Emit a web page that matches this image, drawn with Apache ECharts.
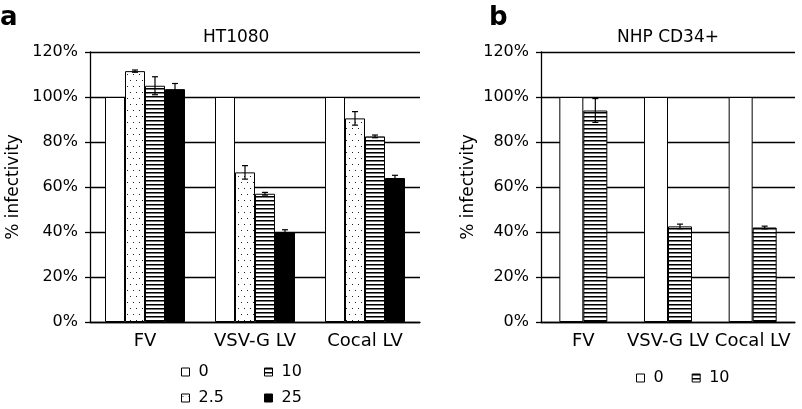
<!DOCTYPE html>
<html>
<head>
<meta charset="utf-8">
<script src="https://cdn.jsdelivr.net/npm/echarts@6/dist/echarts.min.js"></script>
<style>
html,body{margin:0;padding:0;background:#fff;}
#main{width:802px;height:409px;}
</style>
</head>
<body>
<div id="main"></div>
<script>
// ---- data ----
const categories = ['FV', 'VSV-G LV', 'Cocal LV'];
const dosesA = ['0', '2.5', '10', '25'];
const dosesB = ['0', '10'];
const yTickMin = 0, yTickMax = 120, yTickStep = 20; // tick labels 0%..120%

// Panel a: HT1080
const ht0 = [100, 100, 100];
const ht2_5 = [111.5, 66.5, 90.5];
const ht10 = [105, 57, 82.5];
const ht25 = [103.5, 40, 64];
const htErr2_5 = [0.5, 3, 3];
const htErr10 = [4, 0.6, 0.6];
const htErr25 = [2.5, 1, 1.2];

// Panel b: NHP CD34+
const nhp0 = [100, 100, 100];
const nhp10 = [94, 42.5, 42];
const nhpErr10 = [5.3, 1, 0.6];

const titleA = 'HT1080';
const titleB = 'NHP CD34+';
const yName = '% infectivity';

// ---- patterns ----
function dotPattern() {
  const c = document.createElement('canvas');
  c.width = 6; c.height = 12;
  const g = c.getContext('2d');
  g.fillStyle = '#fff'; g.fillRect(0, 0, 6, 12);
  g.fillStyle = '#222';
  g.fillRect(1, 2, 1, 1);
  g.fillRect(4, 8, 1, 1);
  return c;
}
function stripePattern() {
  const c = document.createElement('canvas');
  c.width = 4; c.height = 4;
  const g = c.getContext('2d');
  g.fillStyle = '#fff'; g.fillRect(0, 0, 4, 4);
  g.fillStyle = '#000'; g.fillRect(0, 0, 4, 1);
  g.fillStyle = '#777'; g.fillRect(0, 1, 4, 1);
  return c;
}
const fills = {
  '0': '#ffffff',
  '2.5': { image: dotPattern(), repeat: 'repeat' },
  '10': { image: stripePattern(), repeat: 'repeat' },
  '25': '#000000'
};

const FONT = 'DejaVu Sans';
const chart = echarts.init(document.getElementById('main'), null, { renderer: 'canvas' });

function errRender(offset) {
  return function (params, api) {
    const x = api.value(0), v = api.value(1), e = api.value(2);
    const t = api.coord([x, v + e]);
    const b = api.coord([x, v - e]);
    const cx = t[0] + offset;
    const cap = 3;
    const st = { stroke: '#000', lineWidth: 1.2 };
    return {
      type: 'group',
      children: [
        { type: 'line', shape: { x1: cx, y1: t[1], x2: cx, y2: b[1] }, style: st },
        { type: 'line', shape: { x1: cx - cap, y1: t[1], x2: cx + cap, y2: t[1] }, style: st },
        { type: 'line', shape: { x1: cx - cap, y1: b[1], x2: cx + cap, y2: b[1] }, style: st }
      ]
    };
  };
}
function errData(vals, errs) {
  return vals.map((v, i) => [i, v, errs[i]]);
}

function xAx(gi) {
  return {
    type: 'category', gridIndex: gi, data: categories,
    axisLine: { lineStyle: { color: '#000', width: 1.3 } },
    axisTick: { length: 5, lineStyle: { color: '#000', width: 1.3 } },
    axisLabel: { color: '#000', fontSize: 18, fontFamily: FONT, margin: 10, interval: 0, hideOverlap: false }
  };
}
function yAx(gi, gap) {
  return {
    type: 'value', gridIndex: gi, min: yTickMin, max: yTickMax, interval: yTickStep,
    name: yName, nameLocation: 'middle', nameGap: gap, nameRotate: 90,
    nameTextStyle: { color: '#000', fontSize: 17, fontFamily: FONT },
    axisLine: { show: true, lineStyle: { color: '#000', width: 1.3 } },
    axisTick: { show: true, length: 5, lineStyle: { color: '#000', width: 1.3 } },
    axisLabel: { color: '#000', fontSize: 16, fontFamily: FONT, margin: 12, formatter: '{value}%' },
    splitLine: { show: true, lineStyle: { color: '#000', width: 1.3 } }
  };
}
function barS(name, data, gi, bw) {
  return {
    type: 'bar', name: name, data: data, xAxisIndex: gi, yAxisIndex: gi,
    barWidth: bw, barGap: '0%',
    itemStyle: { color: fills[name], borderColor: '#000', borderWidth: 1 },
    emphasis: { disabled: true }
  };
}
function errS(vals, errs, gi, offset) {
  return {
    type: 'custom', xAxisIndex: gi, yAxisIndex: gi, z: 5,
    data: errData(vals, errs), encode: { x: 0, y: 1 },
    renderItem: errRender(offset), silent: true
  };
}

const legendText = { color: '#000', fontSize: 16, fontFamily: FONT, padding: [0, 0, 0, 4] };
const legendItem = { borderColor: '#000', borderWidth: 1 };
const tStyle = { fontSize: 17, fontWeight: 'normal', color: '#000', fontFamily: FONT };
const lStyle = { fontSize: 26, fontWeight: 'bold', color: '#000', fontFamily: FONT };

const option = {
  animation: false,
  backgroundColor: '#fff',
  textStyle: { fontFamily: FONT },
  title: [
    { text: 'a', left: 0, top: 5, padding: 0, textStyle: lStyle },
    { text: 'b', left: 489, top: 5, padding: 0, textStyle: lStyle },
    { text: titleA, left: 203, top: 29, padding: 0, textStyle: tStyle },
    { text: titleB, left: 617, top: 29, padding: 0, textStyle: tStyle }
  ],
  legend: [
    { data: [dosesA[0], dosesA[1]], orient: 'vertical', left: 181, top: 364, height: 60, padding: 0,
      itemWidth: 8, itemHeight: 8, itemGap: 10,
      icon: 'rect', textStyle: legendText, itemStyle: legendItem, selectedMode: false },
    { data: [dosesA[2], dosesA[3]], orient: 'vertical', left: 264, top: 364, height: 60, padding: 0,
      itemWidth: 8, itemHeight: 8, itemGap: 10,
      icon: 'rect', textStyle: legendText, itemStyle: legendItem, selectedMode: false },
    { data: dosesB, orient: 'horizontal', left: 636, top: 370, padding: 0,
      itemWidth: 8, itemHeight: 8, itemGap: 28,
      icon: 'rect', textStyle: legendText, itemStyle: legendItem, selectedMode: false }
  ],
  grid: [
    { left: 90, right: 382, top: 52, bottom: 87 },
    { left: 541, right: 7, top: 52, bottom: 87 }
  ],
  xAxis: [xAx(0), xAx(1)],
  yAxis: [yAx(0, 68), yAx(1, 64)],
  series: [
    barS(dosesA[0], ht0, 0, 20),
    barS(dosesA[1], ht2_5, 0, 20),
    barS(dosesA[2], ht10, 0, 20),
    barS(dosesA[3], ht25, 0, 20),
    errS(ht2_5, htErr2_5, 0, -10),
    errS(ht10, htErr10, 0, 10),
    errS(ht25, htErr25, 0, 30),
    barS(dosesB[0], nhp0, 1, 24),
    barS(dosesB[1], nhp10, 1, 24),
    errS(nhp10, nhpErr10, 1, 12)
  ]
};
chart.setOption(option);
</script>
</body>
</html>
